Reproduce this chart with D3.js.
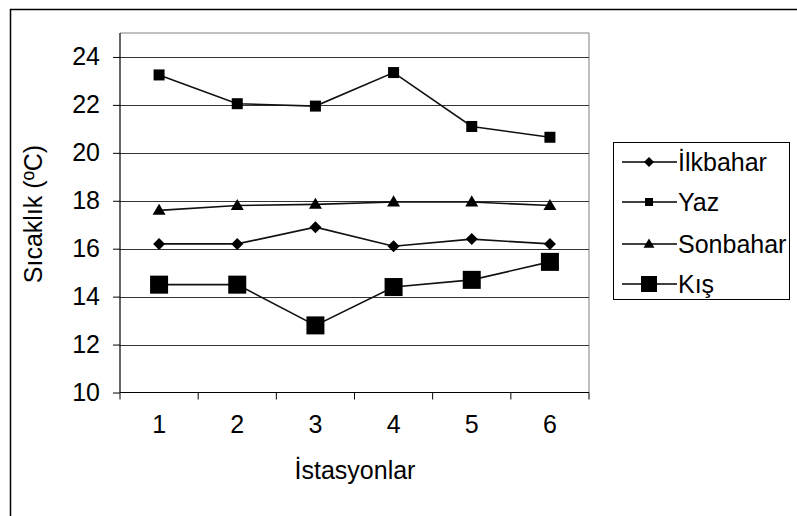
<!DOCTYPE html>
<html>
<head>
<meta charset="utf-8">
<script src="https://cdn.jsdelivr.net/npm/d3@7"></script>
<style>
html,body{margin:0;padding:0;background:#fff;}
svg{display:block;font-family:"Liberation Sans",Arial,sans-serif;}
</style>
</head>
<body>
<svg id="chart" width="797" height="516"></svg>
<script>
const categories = ["1","2","3","4","5","6"];
const ilkbahar = [16.2, 16.2, 16.9, 16.1, 16.4, 16.2];
const yaz      = [23.25, 22.05, 21.95, 23.35, 21.1, 20.65];
const sonbahar = [17.6, 17.8, 17.85, 17.95, 17.95, 17.8];
const kis      = [14.5, 14.5, 12.8, 14.4, 14.7, 15.45];
const seriesNames = ["İlkbahar","Yaz","Sonbahar","Kış"];
const yTicks = [10,12,14,16,18,20,22,24];

const series = [
  {name: seriesNames[0], values: ilkbahar, shape: "diamond", size: 12, lsize: 10},
  {name: seriesNames[1], values: yaz, shape: "square", size: 11, lsize: 8},
  {name: seriesNames[2], values: sonbahar, shape: "triangle", size: 13, lsize: 11},
  {name: seriesNames[3], values: kis, shape: "square", size: 18, lsize: 16}
];

const FS = 25;
const svg = d3.select("#chart");
const pLeft = 120, pRight = 589, pTop = 33, pBottom = 392.5;

// outer border (clipped on right/bottom)
svg.append("rect").attr("x",10.5).attr("y",9.5).attr("width",900).attr("height",600)
  .attr("fill","none").attr("stroke","#000").attr("stroke-width",1.5);

const x = d3.scaleBand().domain(categories).range([pLeft,pRight]);
const y = d3.scaleLinear().domain([10,25]).range([pBottom, pTop]);

// plot frame (top/right)
svg.append("path").attr("d",`M${pLeft},${pTop}H${pRight}V${pBottom}`)
  .attr("fill","none").attr("stroke","#808080").attr("stroke-width",1);

// gridlines
svg.append("g").selectAll("line").data(yTicks.filter(d=>d>10)).join("line")
  .attr("x1",pLeft).attr("x2",pRight)
  .attr("y1",d=>Math.round(y(d))+0.5).attr("y2",d=>Math.round(y(d))+0.5)
  .attr("stroke","#333").attr("stroke-width",1);

// y axis
const yAxis = d3.axisLeft(y).tickValues(yTicks).tickSize(7).tickPadding(13).tickFormat(d3.format("d"));
const gy = svg.append("g").attr("transform",`translate(${pLeft},0)`).call(yAxis);
gy.select(".domain").attr("stroke","#000").attr("stroke-width",1.2).attr("d",`M0,${pTop}V${pBottom}`);
gy.selectAll(".tick line").attr("stroke","#000");
gy.selectAll("text").attr("font-size",FS).attr("fill","#000").attr("font-family","Liberation Sans, Arial, sans-serif");

// x axis
const xAxis = d3.axisBottom(x).tickSize(0).tickPadding(23);
const gx = svg.append("g").attr("transform",`translate(0,${pBottom})`).call(xAxis);
gx.select(".domain").attr("stroke","#000").attr("stroke-width",1.2).attr("d",`M${pLeft},0H${pRight}`);
gx.selectAll("text").attr("font-size",FS).attr("fill","#000").attr("font-family","Liberation Sans, Arial, sans-serif");
// band boundary ticks
const bounds = categories.map(c=>x(c)).concat([pRight]);
svg.append("g").selectAll("line").data(bounds).join("line")
  .attr("x1",d=>d).attr("x2",d=>d).attr("y1",pBottom).attr("y2",pBottom+7)
  .attr("stroke","#000").attr("stroke-width",1);

// axis titles
svg.append("text").attr("x",355).attr("y",479).attr("text-anchor","middle")
  .attr("font-size",FS).text("İstasyonlar");
svg.append("text").attr("transform","translate(42,214) rotate(-90)").attr("text-anchor","middle")
  .attr("font-size",FS).text("Sıcaklık (ºC)");

function marker(sel, shape, s){
  if(shape==="diamond"){
    const h=s/2; sel.append("path").attr("d",`M0,${-h}L${h},0L0,${h}L${-h},0Z`).attr("fill","#000");
  } else if(shape==="square"){
    sel.append("rect").attr("x",-s/2).attr("y",-s/2).attr("width",s).attr("height",s).attr("fill","#000");
  } else {
    const w=s/2, h=s*0.85; sel.append("path").attr("d",`M0,${-h*0.6}L${w},${h*0.4}L${-w},${h*0.4}Z`).attr("fill","#000");
  }
}

const cx = c => x(c)+x.bandwidth()/2;
const line = d3.line().x((d,i)=>cx(categories[i])).y(d=>y(d));

series.forEach(s=>{
  svg.append("path").attr("d",line(s.values)).attr("fill","none")
    .attr("stroke","#111").attr("stroke-width",1.6);
  s.values.forEach((v,i)=>{
    const g = svg.append("g").attr("transform",`translate(${cx(categories[i])},${y(v)})`);
    marker(g, s.shape, s.size);
  });
});

// legend
svg.append("rect").attr("x",613.5).attr("y",142.5).attr("width",176).attr("height",157)
  .attr("fill","#fff").attr("stroke","#000").attr("stroke-width",1);
const ly = [162, 202, 244, 284];
series.forEach((s,i)=>{
  const g = svg.append("g").attr("transform",`translate(0,${ly[i]})`);
  g.append("line").attr("x1",622).attr("x2",677).attr("y1",0).attr("y2",0).attr("stroke","#000").attr("stroke-width",1.5);
  const m = g.append("g").attr("transform","translate(649,0)");
  marker(m, s.shape, s.lsize);
  g.append("text").attr("x",678).attr("y",0).attr("dy","0.35em").attr("font-size",FS).text(s.name);
});
</script>
</body>
</html>
